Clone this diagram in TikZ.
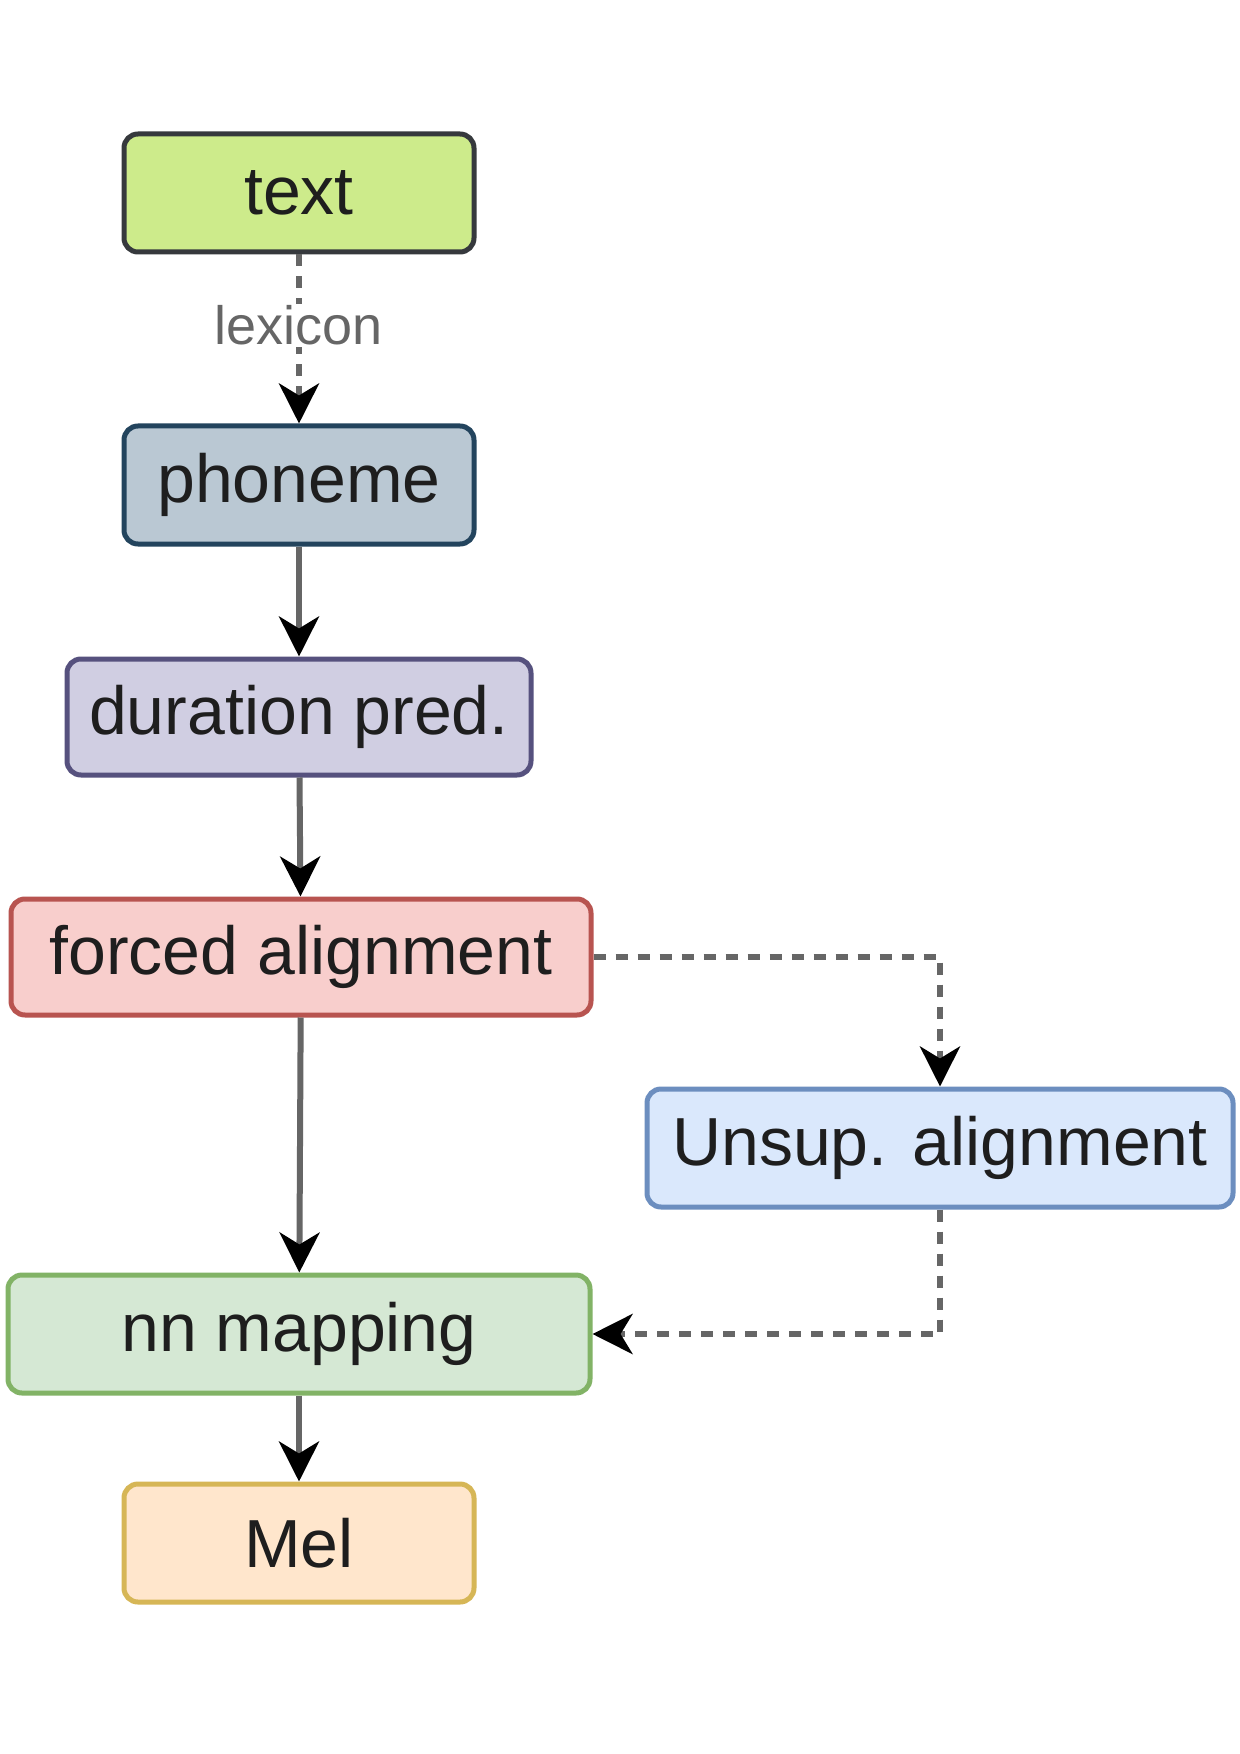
\documentclass[tikz,border=0pt]{standalone}
\usepackage{fontspec}
\setmainfont{Liberation Sans}
\usetikzlibrary{arrows.meta}
\definecolor{txtfill}{HTML}{CDEB8B}\definecolor{txtdraw}{HTML}{36393D}
\definecolor{phofill}{HTML}{BAC8D3}\definecolor{phodraw}{HTML}{23445D}
\definecolor{durfill}{HTML}{D0CEE2}\definecolor{durdraw}{HTML}{56517E}
\definecolor{forfill}{HTML}{F8CECC}\definecolor{fordraw}{HTML}{B85450}
\definecolor{unsfill}{HTML}{DAE8FC}\definecolor{unsdraw}{HTML}{6C8EBF}
\definecolor{nnfill}{HTML}{D5E8D4}\definecolor{nndraw}{HTML}{82B366}
\definecolor{melfill}{HTML}{FFE6CC}\definecolor{meldraw}{HTML}{D6B656}
\definecolor{linecol}{HTML}{666666}
\definecolor{textcol}{HTML}{1E1E1E}
\tikzset{
  box/.style={rectangle, rounded corners=7pt, line width=2.5pt, minimum height=59pt,
    font=\fontsize{34}{38}\selectfont, text=textcol, inner sep=0pt},
  sline/.style={line width=3pt, draw=linecol, -{Stealth[length=20pt,width=20pt,inset=6pt,color=black]}},
  dline/.style={sline, dash pattern=on 6pt off 5pt},
  lbl/.style={fill=white, text=linecol, font=\fontsize{27}{30}\selectfont, inner sep=1pt}
}
\begin{document}
\begin{tikzpicture}[x=0.5pt,y=-0.5pt]
\fill[white] (0,0) rectangle (1240,1754);
\useasboundingbox (0,0) rectangle (1240,1754);
\node[box, fill=txtfill, draw=txtdraw, minimum width=175pt] (text) at (299,193) {text};
\node[box, fill=phofill, draw=phodraw, minimum width=175pt] (phoneme) at (299,485) {phoneme};
\node[box, fill=durfill, draw=durdraw, minimum width=232pt, minimum height=58pt] (duration) at (299,717) {duration pred.};
\node[box, fill=forfill, draw=fordraw, minimum width=290pt, minimum height=58pt] (forced) at (301,957) {forced alignment};
\node[box, fill=unsfill, draw=unsdraw, minimum width=293pt] (unsup) at (940,1148) {Unsup. alignment};
\node[box, fill=nnfill, draw=nndraw, minimum width=291pt] (nn) at (299,1334) {nn mapping};
\node[box, fill=melfill, draw=meldraw, minimum width=175pt] (mel) at (299,1543) {Mel};
\draw[dline] (text) -- node[lbl, pos=0.42]{lexicon} (phoneme);
\draw[sline] (phoneme) -- (duration);
\draw[sline] (duration) -- (forced);
\draw[sline] (forced) -- (nn);
\draw[sline] (nn) -- (mel);
\draw[dline] (forced.east) -| (unsup.north);
\draw[dline] (unsup.south) |- (nn.east);
\end{tikzpicture}
\end{document}
